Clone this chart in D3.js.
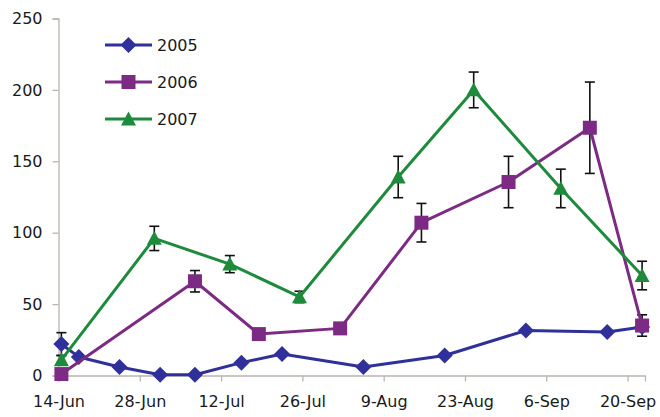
<!DOCTYPE html>
<html>
<head>
<meta charset="utf-8">
<script src="https://cdn.jsdelivr.net/npm/d3@7"></script>
<style>
  body { margin: 0; background: #fff; }
  svg text { font-family: "DejaVu Sans", sans-serif; fill: #1a1a1a; }
  .axis path, .axis line { stroke: #bcb4ae; stroke-width: 1.3; }
  .axis text { font-size: 16px; }
</style>
</head>
<body>
<div id="chart"></div>
<script>
// ---- data (day-month, values) ----
var xTickLabels = ["14-Jun", "28-Jun", "12-Jul", "26-Jul", "9-Aug", "23-Aug", "6-Sep", "20-Sep"];
var yTicks = [0, 50, 100, 150, 200, 250];

var dates2005 = ["14-Jun", "17-Jun", "24-Jun", "1-Jul", "7-Jul", "15-Jul", "22-Jul", "5-Aug", "19-Aug", "2-Sep", "16-Sep", "22-Sep"];
var values2005 = [22, 13, 6, 0.5, 0.5, 9, 15, 6, 14, 31.5, 30.5, 34];
var errors2005 = [8, 0, 0, 0, 0, 0, 0, 0, 0, 0, 0, 0];

var dates2006 = ["14-Jun", "7-Jul", "18-Jul", "1-Aug", "15-Aug", "30-Aug", "13-Sep", "22-Sep"];
var values2006 = [1, 66, 29, 33, 107, 135.5, 173.5, 35];
var errors2006 = [0, 7.5, 0, 0, 13.5, 18, 32, 7.5];

var dates2007 = ["14-Jun", "30-Jun", "13-Jul", "25-Jul", "11-Aug", "24-Aug", "8-Sep", "22-Sep"];
var values2007 = [11, 96, 78, 55, 139, 200, 131, 70];
var errors2007 = [3, 8.5, 6, 4, 14.5, 12.5, 13.5, 10];

var seriesNames = ["2005", "2006", "2007"];
var seriesColors = ["#30309a", "#7d2a85", "#1e8a3c"];

// ---- setup ----
var width = 660, height = 417;
var parseDay = d3.timeParse("%d-%b-%Y");
function toDate(s) { return parseDay(s + "-2007"); }
function mid(s) { return d3.timeHour.offset(toDate(s), 12); }

var svg = d3.select("#chart").append("svg")
    .attr("width", width)
    .attr("height", height);

var x = d3.scaleTime()
    .domain([toDate("14-Jun"), toDate("23-Sep")])
    .range([58.5, 645]);

var y = d3.scaleLinear()
    .domain([0, 250])
    .range([375.5, 18.5]);

// axes
var xAxis = d3.axisBottom(x)
    .tickValues(xTickLabels.map(toDate))
    .tickFormat(d3.timeFormat("%-d-%b"))
    .tickSizeOuter(0)
    .tickSize(6)
    .tickPadding(14);

svg.append("g")
    .attr("class", "axis x")
    .attr("transform", "translate(0," + y(0) + ")")
    .call(xAxis);

var yAxis = d3.axisLeft(y)
    .tickValues(yTicks)
    .tickSizeOuter(0)
    .tickSize(6)
    .tickPadding(10);

svg.append("g")
    .attr("class", "axis y")
    .attr("transform", "translate(" + x.range()[0] + ",0)")
    .call(yAxis);

// marker shapes
var diamondType = {
    draw: function(ctx, size) {
        var r = Math.sqrt(size) / 2;
        ctx.moveTo(0, -r); ctx.lineTo(r, 0); ctx.lineTo(0, r); ctx.lineTo(-r, 0); ctx.closePath();
    }
};
var triangleType = {
    draw: function(ctx, size) {
        var r = Math.sqrt(size) / 2;
        ctx.moveTo(0, -r); ctx.lineTo(r, r * 0.85); ctx.lineTo(-r, r * 0.85); ctx.closePath();
    }
};
var markerTypes = [diamondType, d3.symbolSquare, triangleType];
var markerSizes = [256, 196, 225];

var series = [
    { dates: dates2005, values: values2005, errors: errors2005 },
    { dates: dates2006, values: values2006, errors: errors2006 },
    { dates: dates2007, values: values2007, errors: errors2007 }
].map(function(s, i) {
    return {
        name: seriesNames[i],
        color: seriesColors[i],
        points: s.dates.map(function(d, j) {
            return { date: mid(d), value: s.values[j], err: s.errors[j] };
        })
    };
});

var line = d3.line()
    .x(function(d) { return x(d.date); })
    .y(function(d) { return y(d.value); });

// error bars (beneath markers)
series.forEach(function(s) {
    var eb = svg.append("g").attr("class", "errorbars")
        .selectAll("g")
        .data(s.points.filter(function(d) { return d.err > 0; }))
        .enter().append("g")
        .attr("stroke", "#111")
        .attr("stroke-width", 1.6);

    eb.append("line")
        .attr("x1", function(d) { return x(d.date); })
        .attr("x2", function(d) { return x(d.date); })
        .attr("y1", function(d) { return y(d.value - d.err); })
        .attr("y2", function(d) { return y(d.value + d.err); });

    [-1, 1].forEach(function(sign) {
        eb.append("line")
            .attr("x1", function(d) { return x(d.date) - 5; })
            .attr("x2", function(d) { return x(d.date) + 5; })
            .attr("y1", function(d) { return y(d.value + sign * d.err); })
            .attr("y2", function(d) { return y(d.value + sign * d.err); });
    });
});

// lines and markers
series.forEach(function(s, i) {
    var g = svg.append("g").attr("class", "series");

    g.append("path")
        .datum(s.points)
        .attr("fill", "none")
        .attr("stroke", s.color)
        .attr("stroke-width", 3)
        .attr("stroke-linejoin", "round")
        .attr("d", line);

    g.selectAll(".marker")
        .data(s.points)
        .enter().append("path")
        .attr("class", "marker")
        .attr("transform", function(d) { return "translate(" + x(d.date) + "," + y(d.value) + ")"; })
        .attr("fill", s.color)
        .attr("d", d3.symbol().type(markerTypes[i]).size(markerSizes[i]));
});

// legend
var legend = svg.selectAll(".legend")
    .data(series)
    .enter().append("g")
    .attr("class", "legend")
    .attr("transform", function(d, i) { return "translate(105," + (45 + 37 * i) + ")"; });

legend.append("line")
    .attr("x1", 0)
    .attr("x2", 47)
    .attr("stroke", function(d) { return d.color; })
    .attr("stroke-width", 3);

legend.append("path")
    .attr("transform", "translate(23.5,0)")
    .attr("fill", function(d) { return d.color; })
    .attr("d", function(d, i) { return d3.symbol().type(markerTypes[i]).size(markerSizes[i])(); });

legend.append("text")
    .attr("x", 52)
    .attr("dy", "0.36em")
    .style("font-size", "16px")
    .text(function(d) { return d.name; });
</script>
</body>
</html>
